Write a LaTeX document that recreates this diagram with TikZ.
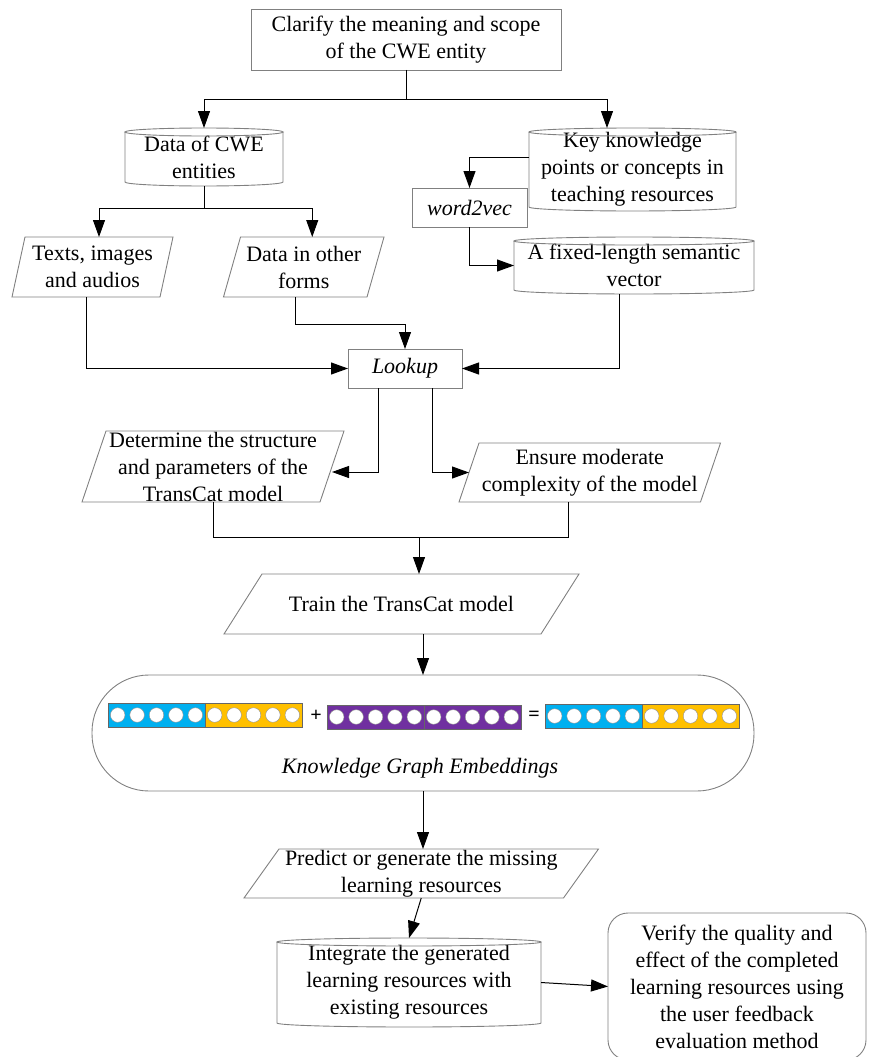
\documentclass[tikz,border=0pt]{standalone}
\usepackage{fontspec}
\setmainfont{Liberation Serif}
\usetikzlibrary{arrows.meta,calc}
\definecolor{cblue}{HTML}{00B0F0}
\definecolor{cyellow}{HTML}{FFC000}
\definecolor{cpurple}{HTML}{7030A0}
\newcommand\cylshape[2]{%
 \draw[shp] ([yshift=-4pt]#1.north) ellipse[x radius=#2pt, y radius=4pt];
 \draw[shp] ([yshift=-4pt]#1.north west) -- ([yshift=4pt]#1.south west) arc[start angle=180,end angle=360,x radius=#2pt,y radius=4pt] -- ([yshift=-4pt]#1.north east);}
\newcommand\parashape[2]{%
 \draw[shp] ([xshift=#2pt]#1.north west) -- ([xshift=#2pt]#1.north east) -- ([xshift=-#2pt]#1.south east) -- ([xshift=-#2pt]#1.south west) -- cycle;}
\newcommand\embseg[3]{%
 \draw[draw=black!60, fill=#3] (#1,#2) rectangle ++(97,24);
 \foreach \i in {0,...,4} \draw[draw=black!45, fill=white] ({#1+9.7+19.4*\i},{#2+12}) circle[radius=7.3pt];}
\begin{document}
\begin{tikzpicture}[x=1pt,y=-1pt,
  font=\fontsize{22}{27}\selectfont,
  shp/.style={draw=black!50, line width=0.9pt},
  con/.style={draw=black, line width=1pt},
  arr/.style={con, -{Triangle[length=17pt,width=12pt]}},
  txt/.style={inner sep=0pt, outer sep=0pt, align=center},
]
\useasboundingbox (0,0) rectangle (868,1057);

% nodes
\node[txt, shp, minimum width=310pt, minimum height=61pt] (top) at (406,39.5) {Clarify the meaning and scope\\of the CWE entity};
\node[txt, minimum width=158pt, minimum height=58pt] (data) at (204,157) {Data of CWE\\entities};
\cylshape{data}{79}
\node[txt, minimum width=207pt, minimum height=83pt] (key) at (632.5,169.5) {Key knowledge\\points or concepts in\\teaching resources};
\cylshape{key}{103.5}
\node[txt, shp, minimum width=115pt, minimum height=39pt] (w2v) at (469.5,207.5) {\itshape word2vec};
\node[txt, minimum width=148pt, minimum height=60pt] (texts) at (92.5,267) {Texts, images\\and audios};
\parashape{texts}{6.5}
\node[txt, minimum width=143.5pt, minimum height=60pt] (other) at (303.75,267) {Data in other\\forms};
\parashape{other}{8.5}
\node[txt, minimum width=240pt, minimum height=57pt] (fixed) at (634,265.5) {A fixed-length semantic\\vector};
\cylshape{fixed}{120}
\node[txt, shp, minimum width=114pt, minimum height=39pt] (look) at (405,368.5) {\itshape Lookup};
\node[txt, minimum width=238pt, minimum height=71pt] (det) at (213,466.5) {Determine the structure\\and parameters of the\\TransCat model};
\parashape{det}{12}
\node[txt, minimum width=241.5pt, minimum height=59pt] (ens) at (589.75,472.5) {Ensure moderate\\complexity of the model};
\parashape{ens}{10}
\node[txt, minimum width=317pt, minimum height=60pt] (train) at (401.5,604) {Train the TransCat model};
\parashape{train}{19}
\node[txt, shp, rounded corners=57pt, minimum width=662pt, minimum height=116pt] (kge) at (423,733) {};
\node[txt] (kget) at (420,768) {\itshape Knowledge Graph Embeddings};
\node[txt, minimum width=319.5pt, minimum height=49pt] (pred) at (421.25,873.5) {Predict or generate the missing\\learning resources};
\parashape{pred}{17.5}
\node[txt, minimum width=264pt, minimum height=89pt] (integ) at (409,982.5) {Integrate the generated\\learning resources with\\existing resources};
\cylshape{integ}{132}
\node[txt, shp, rounded corners=20pt, minimum width=258pt, minimum height=147pt] (ver) at (737,986.5) {Verify the quality and\\effect of the completed\\learning resources using\\the user feedback\\evaluation method};

% embedding bars
\embseg{108}{703}{cblue}
\embseg{205}{703}{cyellow}
\embseg{327}{705}{cpurple}
\embseg{424}{705}{cpurple}
\embseg{545}{704}{cblue}
\embseg{642}{704}{cyellow}
\node[txt, font=\fontsize{20}{22}\selectfont\bfseries] (plus) at (316,716) {+};
\node[txt, font=\fontsize{20}{22}\selectfont\bfseries] (eq) at (534,716) {=};

% connectors
\coordinate (j1) at (406,99);
\draw[con] (top.south) -- (j1);
\draw[arr] (j1) -| (data.north);
\draw[arr] (j1) -| ([xshift=-25.5pt]key.north);
\draw[arr] ([yshift=12.5pt]key.west) -| (w2v.north);
\coordinate (j3) at (204,208);
\draw[con] (data.south) -- (j3);
\draw[arr] (j3) -| ([xshift=6.5pt]texts.north);
\draw[arr] (j3) -| ([xshift=8.5pt]other.north);
\draw[arr] (w2v.south) |- (fixed.west);
\draw[arr] ([xshift=-6.5pt]texts.south) |- (look.west);
\coordinate (j4) at (405,324);
\draw[arr] ([xshift=-8.5pt]other.south) |- (j4) -- (look.north);
\draw[arr] ([xshift=-15pt]fixed.south) |- (look.east);
\draw[arr] ([xshift=-27pt]look.south) |- ([yshift=-5.5pt]det.east);
\draw[arr] ([xshift=27pt]look.south) |- (ens.west);
\coordinate (j5) at (419,537);
\draw[con] (det.south) |- (j5);
\draw[con] ([xshift=-21pt]ens.south) |- (j5);
\draw[arr] (j5) -- (j5 |- train.north);
\draw[arr] (train.south -| kge.north) -- (kge.north);
\draw[arr] (kge.south) -- (kge.south |- pred.north);
\draw[arr] (pred.south) -- (integ.north);
\draw[arr] (integ.east) -- (ver.west);
\end{tikzpicture}
\end{document}
